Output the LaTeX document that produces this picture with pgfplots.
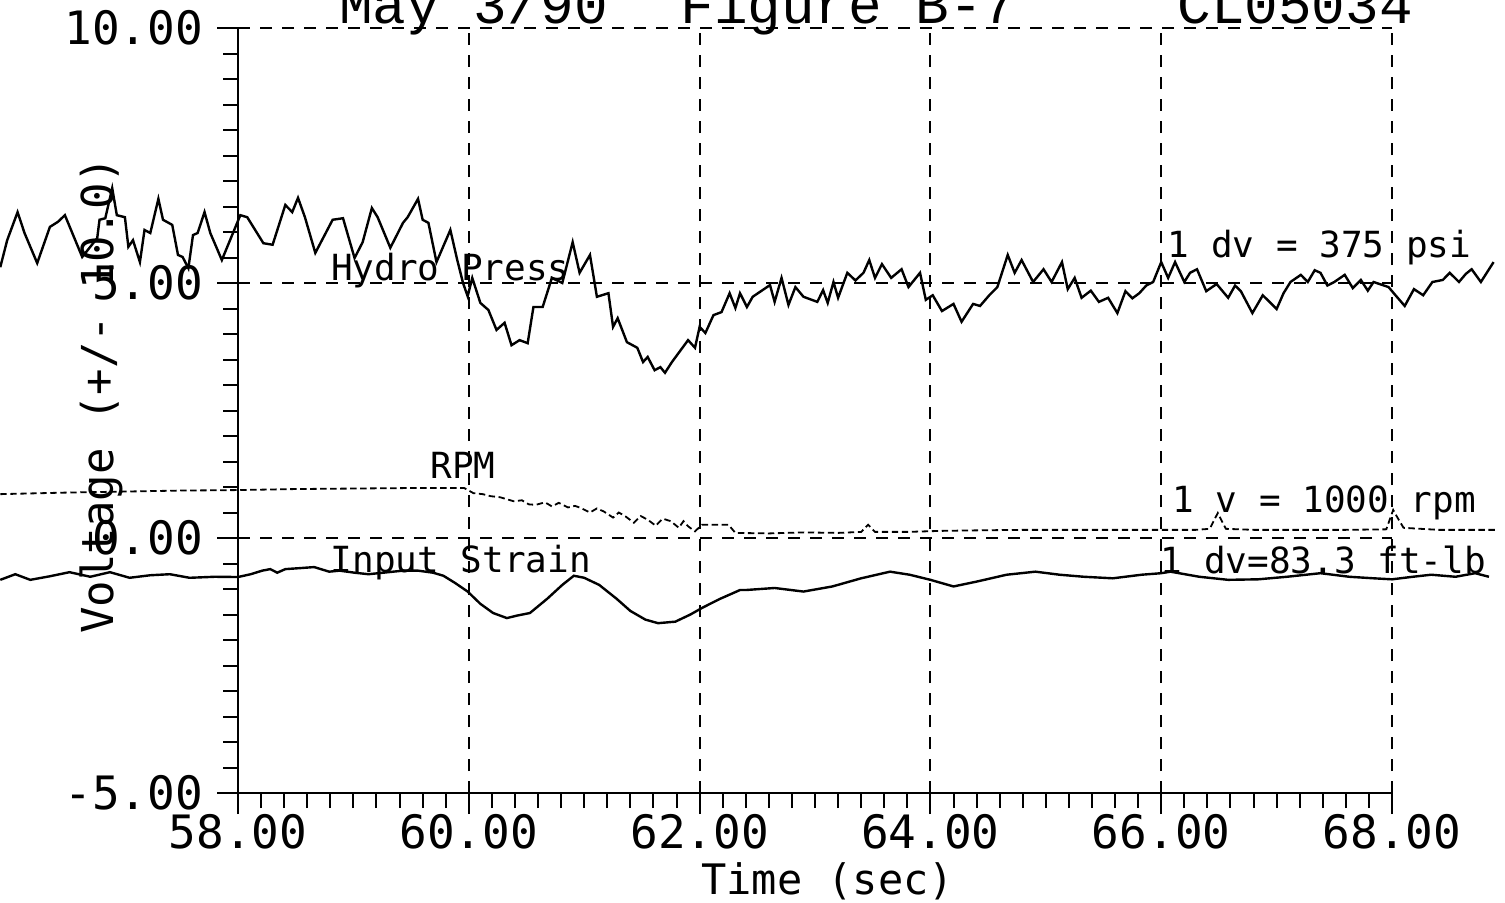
\documentclass[border=0pt]{standalone}
\usepackage{fontspec}
\setmainfont{DejaVu Sans Mono}
\newfontfamily\titlefont{Liberation Mono}
\usepackage{pgfplots}
\pgfplotsset{compat=1.18}

\begin{document}
\begin{tikzpicture}
\begin{axis}[
  at={(0,0)}, anchor=south west,
  scale only axis, width=288.5pt, height=191.25pt,
  xmin=58, xmax=68, ymin=-5, ymax=10,
  clip=false,
  axis lines=left,
  axis line style={-, line width=0.6pt},
  xtick={58,60,...,68}, ytick={-5,0,5,10},
  minor x tick num=9, minor y tick num=9,
  tick align=outside,
  major tick length=5.25pt, minor tick length=3.75pt,
  every tick/.style={black, line width=0.5pt},
  grid=major,
  major grid style={dash pattern=on 3pt off 2.5pt, line width=0.5pt, black},
  /pgf/number format/fixed,
  /pgf/number format/fixed zerofill,
  /pgf/number format/precision=2,
  /pgf/number format/assume math mode=true,
  ticklabel style={font=\fontsize{11.5}{12}\selectfont},
  xticklabel style={yshift=3.5pt},
]
% Hydro Press
\addplot[black, line width=0.6pt] coordinates {
(55.94,5.31) (56.00,5.84) (56.09,6.39) (56.15,5.98) (56.26,5.39) (56.37,6.10) (56.44,6.20) (56.50,6.33)
(56.65,5.51) (56.78,5.88) (56.80,6.24) (56.85,6.27) (56.91,6.86) (56.95,6.33) (57.02,6.29) (57.05,5.71)
(57.09,5.84) (57.15,5.41) (57.19,6.04) (57.24,5.98) (57.31,6.65) (57.35,6.24) (57.43,6.14) (57.48,5.55)
(57.52,5.51) (57.57,5.29) (57.61,5.94) (57.65,5.98) (57.71,6.39) (57.76,5.98) (57.86,5.45) (58.02,6.33)
(58.08,6.29) (58.22,5.78) (58.30,5.75) (58.41,6.53) (58.47,6.39) (58.52,6.67) (58.58,6.29) (58.67,5.59)
(58.82,6.24) (58.91,6.27) (59.01,5.49) (59.08,5.80) (59.16,6.47) (59.21,6.29) (59.32,5.69) (59.43,6.18)
(59.47,6.29) (59.56,6.65) (59.60,6.24) (59.65,6.18) (59.72,5.41) (59.84,6.04) (59.90,5.45) (59.95,5.00)
(59.99,4.74) (60.03,5.10) (60.10,4.61) (60.17,4.47) (60.24,4.08) (60.31,4.22) (60.37,3.78) (60.44,3.88)
(60.51,3.82) (60.56,4.53) (60.64,4.53) (60.72,5.10) (60.81,5.00) (60.90,5.80) (60.96,5.20) (61.05,5.55)
(61.11,4.73) (61.21,4.80) (61.25,4.14) (61.29,4.31) (61.37,3.84) (61.46,3.73) (61.51,3.45) (61.55,3.55)
(61.61,3.29) (61.66,3.35) (61.70,3.24) (61.76,3.45) (61.90,3.88) (61.96,3.73) (62.00,4.14) (62.05,4.02)
(62.12,4.37) (62.19,4.43) (62.26,4.80) (62.31,4.51) (62.35,4.80) (62.41,4.53) (62.46,4.73) (62.61,4.96)
(62.65,4.63) (62.71,5.10) (62.77,4.57) (62.83,4.92) (62.90,4.73) (63.02,4.63) (63.07,4.86) (63.11,4.61)
(63.16,5.02) (63.20,4.71) (63.28,5.20) (63.35,5.05) (63.42,5.20) (63.47,5.45) (63.52,5.10) (63.58,5.37)
(63.66,5.10) (63.75,5.27) (63.81,4.92) (63.91,5.20) (63.96,4.67) (64.02,4.76) (64.10,4.45) (64.20,4.59)
(64.27,4.24) (64.37,4.59) (64.43,4.55) (64.51,4.76) (64.58,4.92) (64.67,5.55) (64.73,5.20) (64.79,5.45)
(64.89,5.02) (64.98,5.27) (65.05,5.02) (65.14,5.41) (65.19,4.88) (65.25,5.10) (65.31,4.71) (65.39,4.85)
(65.46,4.63) (65.54,4.71) (65.62,4.41) (65.69,4.84) (65.75,4.70) (65.81,4.80) (65.87,4.95) (65.93,5.02)
(66.00,5.41) (66.06,5.10) (66.12,5.41) (66.20,5.02) (66.25,5.20) (66.31,5.27) (66.39,4.84) (66.48,4.98)
(66.58,4.71) (66.64,4.95) (66.69,4.84) (66.79,4.41) (66.88,4.76) (67.00,4.49) (67.06,4.80) (67.12,5.02)
(67.21,5.16) (67.27,5.02) (67.33,5.25) (67.38,5.20) (67.44,4.95) (67.50,5.02) (67.59,5.16) (67.66,4.90)
(67.73,5.06) (67.79,4.85) (67.84,5.02) (67.97,4.92) (68.03,4.76) (68.11,4.55) (68.19,4.88) (68.27,4.76)
(68.35,5.02) (68.44,5.06) (68.50,5.20) (68.58,5.02) (68.64,5.18) (68.69,5.27) (68.77,5.02) (68.88,5.41)
};
% RPM
\addplot[black, line width=0.45pt, dash pattern=on 1.6pt off 0.9pt] coordinates {
(55.94,0.86) (56.5,0.89) (57.0,0.91) (57.5,0.93) (58.0,0.94) (58.5,0.96) (59.0,0.97) (59.5,0.98)
(59.96,0.98) (60.04,0.88) (60.12,0.86) (60.19,0.82) (60.27,0.80) (60.33,0.76) (60.39,0.72) (60.46,0.74)
(60.52,0.66) (60.58,0.65) (60.66,0.70) (60.72,0.62) (60.78,0.69) (60.86,0.60) (60.92,0.63) (60.97,0.59)
(61.05,0.50) (61.11,0.58) (61.17,0.52) (61.25,0.40) (61.30,0.50) (61.36,0.42) (61.43,0.30) (61.49,0.43)
(61.55,0.36) (61.62,0.24) (61.68,0.38) (61.75,0.33) (61.82,0.20) (61.86,0.33) (61.90,0.23) (61.96,0.13)
(62.02,0.26) (62.25,0.26) (62.31,0.10) (62.6,0.09) (62.9,0.11) (63.2,0.10) (63.4,0.12) (63.46,0.26)
(63.52,0.12) (63.8,0.12) (64.1,0.14) (64.4,0.15) (64.8,0.16) (65.2,0.16) (65.6,0.16) (66.0,0.16)
(66.3,0.16) (66.42,0.18) (66.49,0.49) (66.56,0.18) (66.8,0.16) (67.2,0.16) (67.6,0.16) (67.95,0.17)
(68.01,0.55) (68.06,0.35) (68.10,0.20) (68.4,0.16) (68.9,0.16)
};
% Input Strain
\addplot[black, line width=0.6pt] coordinates {
(55.94,-0.82) (56.07,-0.71) (56.20,-0.82) (56.37,-0.75) (56.54,-0.67) (56.72,-0.76) (56.89,-0.67)
(57.06,-0.78) (57.24,-0.73) (57.41,-0.71) (57.58,-0.78) (57.80,-0.76) (58.00,-0.765)
(58.11,-0.71) (58.21,-0.64) (58.28,-0.61) (58.34,-0.68) (58.41,-0.61) (58.54,-0.59) (58.66,-0.57)
(58.79,-0.66) (58.88,-0.64) (59.01,-0.68) (59.13,-0.71) (59.26,-0.68) (59.43,-0.64) (59.56,-0.64)
(59.69,-0.68) (59.78,-0.74) (59.88,-0.88) (59.99,-1.05) (60.10,-1.29) (60.21,-1.47) (60.33,-1.57)
(60.42,-1.52) (60.53,-1.47) (60.68,-1.19) (60.81,-0.92) (60.91,-0.74) (61.00,-0.78) (61.13,-0.92)
(61.28,-1.19) (61.40,-1.43) (61.53,-1.60) (61.64,-1.67) (61.79,-1.64) (61.92,-1.50) (62.03,-1.36)
(62.18,-1.19) (62.35,-1.02) (62.40,-1.02) (62.65,-0.98) (62.90,-1.05) (63.15,-0.95) (63.40,-0.79)
(63.65,-0.66) (63.82,-0.72) (64.00,-0.82) (64.20,-0.95) (64.41,-0.85) (64.66,-0.72) (64.91,-0.66)
(65.12,-0.72) (65.33,-0.76) (65.58,-0.79) (65.83,-0.72) (66.00,-0.69) (66.08,-0.66) (66.33,-0.76)
(66.58,-0.82) (66.84,-0.81) (67.09,-0.76) (67.38,-0.69) (67.63,-0.76) (67.84,-0.79) (68.00,-0.81)
(68.18,-0.76) (68.34,-0.72) (68.55,-0.76) (68.72,-0.69) (68.84,-0.76)
};
% annotations
\node[font=\fontsize{9}{10}\selectfont] at (axis cs:59.84,5.25) {Hydro Press};
\node[font=\fontsize{9}{10}\selectfont] at (axis cs:59.95,1.43) {RPM};
\node[font=\fontsize{9}{10}\selectfont] at (axis cs:59.93,-0.49) {Input Strain};
\node[font=\fontsize{9}{10}\selectfont, anchor=west, inner sep=0pt] at (axis cs:66.05,5.69) {1 dv = 375 psi};
\node[font=\fontsize{9}{10}\selectfont, anchor=west, inner sep=0pt] at (axis cs:66.09,0.69) {1 v = 1000 rpm};
\node[font=\fontsize{9}{10}\selectfont, anchor=west, inner sep=0pt] at (axis cs:65.99,-0.43) {1 dv=83.3 ft-lb};
% title
\node[font=\titlefont\fontsize{14}{15}\selectfont, anchor=base] at (axis cs:60.04,10.08) {May 3/90};
\node[font=\titlefont\fontsize{14}{15}\selectfont, anchor=base] at (axis cs:63.29,10.08) {Figure B-7};
\node[font=\titlefont\fontsize{14}{15}\selectfont, anchor=base] at (axis cs:67.16,10.08) {CL05034};
% axis labels
\node[font=\fontsize{10.5}{11}\selectfont] at (axis cs:63.11,-6.73) {Time (sec)};
\node[font=\fontsize{11}{12}\selectfont, rotate=90] at (axis cs:56.82,2.8) {Voltage (+/- 10.0)};
\end{axis}
\pgfresetboundingbox
\path[use as bounding box] (-59.5pt,-27.25pt) rectangle (316.75pt,198.25pt);
\end{tikzpicture}
\end{document}
